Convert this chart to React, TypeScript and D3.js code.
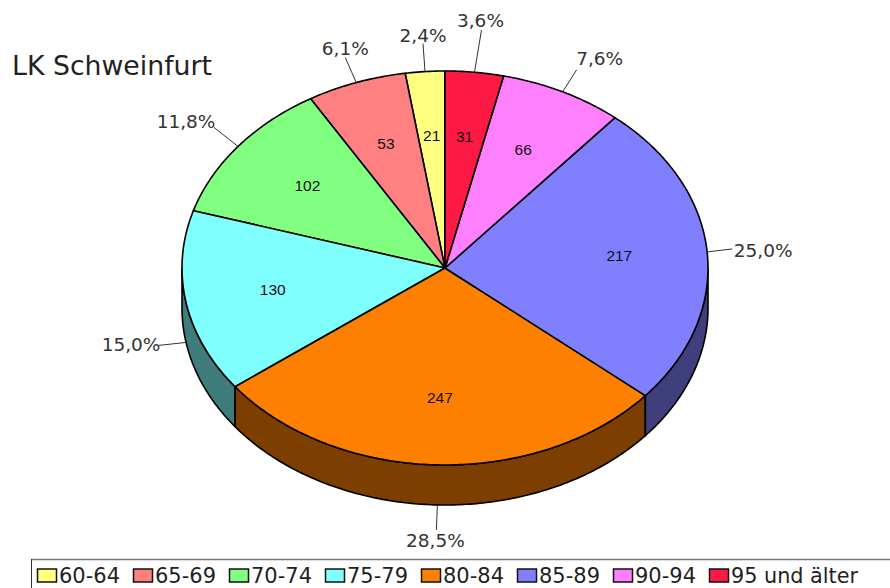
import React from 'react'
import * as d3 from 'd3'

const categories = ['60-64', '65-69', '70-74', '75-79', '80-84', '85-89', '90-94', '95 und älter']
const values = [21, 53, 102, 130, 247, 217, 66, 31]
const percentLabels = ['2,4%', '6,1%', '11,8%', '15,0%', '28,5%', '25,0%', '7,6%', '3,6%']
const colors = ['#ffff80', '#ff8080', '#80ff80', '#80ffff', '#ff8000', '#8080ff', '#ff80ff', '#ff1a46']

// leader line end and label anchor, relative to the point on the rim
const leaderOffsets = [[-2, -28], [-11, -25], [-24, -19], [-28, 3], [-1, 25], [25, -3], [14, -22], [7, -42]]
const labelOffsets = [[-2, -36], [-11, -34], [-52, -24], [-55, 3], [-2, 36], [56, -1], [37, -33], [6, -51]]

const width = 890
const height = 588
const cx = 445
const cy = 268
const rx = 263
const ry = 197
const depth = 40
const TAU = Math.PI * 2

const pie = d3.pie<number>().value(d => d).sort(null).startAngle(0).endAngle(-TAU)
const slices = pie(values)

// angle 0 is at the top, same as d3.arc
const px = (a: number, k = 1) => cx + Math.sin(a) * rx * k
const py = (a: number, k = 1) => cy - Math.cos(a) * ry * k

const line = d3.line<[number, number]>().curve(d3.curveLinear)

const sector = (s: d3.PieArcDatum<number>) => {
  const n = Math.max(4, Math.ceil(Math.abs(s.endAngle - s.startAngle) * 80))
  const rim = d3.range(n + 1).map(i => {
    const a = s.startAngle + (s.endAngle - s.startAngle) * i / n
    return [px(a), py(a)] as [number, number]
  })
  return line([[cx, cy], ...rim]) + 'Z'
}

// part of a slice on the front half of the pie, angles run negative from -TAU/4 to -3TAU/4
const wall = (s: d3.PieArcDatum<number>) => {
  const from = Math.max(s.endAngle, -TAU * 0.75)
  const to = Math.min(s.startAngle, -TAU * 0.25)
  if (from >= to) return null
  const n = Math.ceil((to - from) * 80)
  const top = d3.range(n + 1).map(i => {
    const a = from + (to - from) * i / n
    return [px(a), py(a)] as [number, number]
  })
  const bottom = top.map(([x, y]) => [x, y + depth] as [number, number]).reverse()
  return line([...top, ...bottom]) + 'Z'
}

const isFront = (a: number) => Math.cos(a) < 0

const App = () => {
  return (
    <svg
      width={width}
      height={height}
      style={{position: 'absolute', left: 0, top: 0, background: '#fff'}}
    >
      <text x={12} y={75} fontFamily="DejaVu Sans" fontSize={27} fill="#222" textLength={200} lengthAdjust="spacingAndGlyphs">LK Schweinfurt</text>

      {slices.map((s, i) => {
        const d = wall(s)
        if (!d) return null
        return (
          <path
            key={categories[i]}
            d={d}
            fill={d3.color(colors[i])!.darker(1.99).formatHex()}
            stroke="#000"
            strokeWidth={1.6}
            strokeLinejoin="round"
          />
        )
      })}
      {slices.map((s, i) => (
        <path key={categories[i]} d={sector(s)} fill={colors[i]} stroke="#000" strokeWidth={1.6} strokeLinejoin="round" />
      ))}

      {slices.map((s, i) => {
        const mid = (s.startAngle + s.endAngle) / 2
        const x0 = px(mid)
        const y0 = py(mid) + (isFront(mid) ? depth : 0)
        return (
          <g key={categories[i]}>
            <text
              x={px(mid, 0.665)}
              y={py(mid, 0.665) + 4}
              textAnchor="middle"
              fontFamily="Liberation Sans"
              fontSize={15.5}
              fill="#111"
            >
              {values[i]}
            </text>
            <line
              x1={x0}
              y1={y0}
              x2={x0 + leaderOffsets[i][0]}
              y2={y0 + leaderOffsets[i][1]}
              stroke="#333"
              strokeWidth={1}
            />
            <text
              x={x0 + labelOffsets[i][0]}
              y={y0 + labelOffsets[i][1] + 6}
              textAnchor="middle"
              fontFamily="DejaVu Sans"
              fontSize={18.5}
              fill="#333"
            >
              {percentLabels[i]}
            </text>
          </g>
        )
      })}

      <g>
        <line x1={31} y1={559.5} x2={width} y2={559.5} stroke="#777" strokeWidth={1.5} />
        <line x1={31.5} y1={559} x2={31.5} y2={height} stroke="#333" strokeWidth={1} />
        {categories.map((c, i) => (
          <g key={c} transform={`translate(${37 + i * 96},0)`}>
            <rect x={0.5} y={569} width={19} height={13} fill={colors[i]} stroke="#111" strokeWidth={1.5} />
            <text
              x={22}
              y={583}
              fontFamily="DejaVu Sans"
              fontSize={21}
              fill="#222"
              textLength={i === categories.length - 1 ? 127 : 61}
              lengthAdjust="spacingAndGlyphs"
            >
              {c}
            </text>
          </g>
        ))}
      </g>
    </svg>
  )
}

export default App
